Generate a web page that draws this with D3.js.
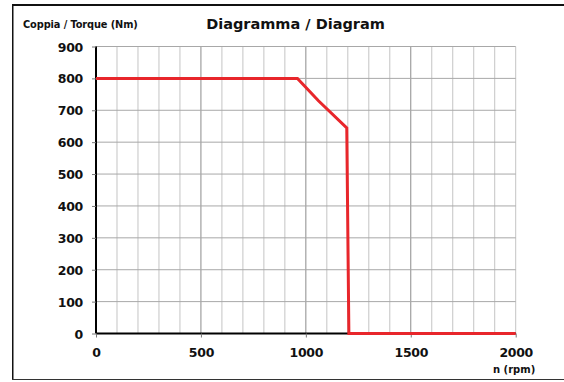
<!DOCTYPE html>
<html><head><meta charset="utf-8">
<script src="https://cdn.jsdelivr.net/npm/d3@7"></script>
<style>body{margin:0;background:#fff}svg{display:block}text{font-family:"DejaVu Sans",sans-serif;font-weight:bold;fill:#111}</style>
</head><body>
<script>
const title = "Diagramma / Diagram";
const yLabel = "Coppia / Torque (Nm)";
const xLabel = "n (rpm)";
const rpm =    [0,   960, 1060, 1195, 1205, 2000];
const torque = [800, 800, 730,  645,  0,    0];
const xTicks = [0, 500, 1000, 1500, 2000];
const yTicks = [0, 100, 200, 300, 400, 500, 600, 700, 800, 900];

const W = 564, H = 382;
const svg = d3.select("body").append("svg").attr("width", W).attr("height", H);
const x = d3.scaleLinear().domain([0, 2000]).range([96, 515.7]);
const y = d3.scaleLinear().domain([0, 900]).range([333.5, 46.5]);

// frame
svg.append("line").attr("x1",12).attr("x2",W).attr("y1",5).attr("y2",5).attr("stroke","#111").attr("stroke-width",2);
svg.append("line").attr("x1",12.75).attr("x2",12.75).attr("y1",4).attr("y2",380).attr("stroke","#111").attr("stroke-width",1.5);
svg.append("line").attr("x1",12).attr("x2",W).attr("y1",379.5).attr("y2",379.5).attr("stroke","#333").attr("stroke-width",1);

// grid
const g = svg.append("g");
d3.range(100, 2001, 100).forEach(v => {
  g.append("line").attr("x1",x(v)).attr("x2",x(v)).attr("y1",y(0)).attr("y2",y(900))
   .attr("stroke", v % 500 === 0 && v !== 2000 ? "#8c8c8c" : "#c4c4c4").attr("stroke-width",1);
});
yTicks.filter(v => v > 0).forEach(v => {
  g.append("line").attr("x1",x(0)).attr("x2",x(2000)).attr("y1",y(v)).attr("y2",y(v))
   .attr("stroke","#a8a8a8").attr("stroke-width",1);
});

// axes
const ya = svg.append("g").attr("transform",`translate(${x(0)},0)`)
  .call(d3.axisLeft(y).tickValues(yTicks).tickFormat(d3.format("d")).tickSize(4).tickPadding(9));
ya.select(".domain").attr("stroke","#000").attr("stroke-width",2).attr("d",`M0,${y(0)}V${y(900)}`);
ya.selectAll(".tick line").attr("stroke","#777");
ya.selectAll("text").style("font-size","12.5px").attr("dy","0.36em");

const xa = svg.append("g").attr("transform",`translate(0,${y(0)})`)
  .call(d3.axisBottom(x).tickValues(xTicks).tickFormat(d3.format("d")).tickSize(4).tickPadding(11));
xa.select(".domain").attr("stroke","#000").attr("stroke-width",2).attr("d",`M${x(0)},0H${x(2000)}`);
xa.selectAll(".tick line").attr("stroke","#777");
xa.selectAll("text").style("font-size","12.5px");
svg.selectAll(".tick text").attr("fill","#111").style("letter-spacing","-0.3px");

// curve
const pts = rpm.map((r,i) => [r, torque[i]]);
svg.append("path").datum(pts)
  .attr("d", d3.line().x(d => x(d[0])).y(d => y(d[1])))
  .attr("fill","none").attr("stroke","#e8262b").attr("stroke-width",3).attr("stroke-linejoin","miter");

// labels
svg.append("text").attr("x",295.5).attr("y",29).attr("text-anchor","middle").style("font-size","14.5px").text(title);
svg.append("text").attr("x",23).attr("y",28).style("font-size","9.8px").style("letter-spacing","-0.1px").text(yLabel);
svg.append("text").attr("x",493).attr("y",373).style("font-size","10px").text(xLabel);
</script>
</body></html>
